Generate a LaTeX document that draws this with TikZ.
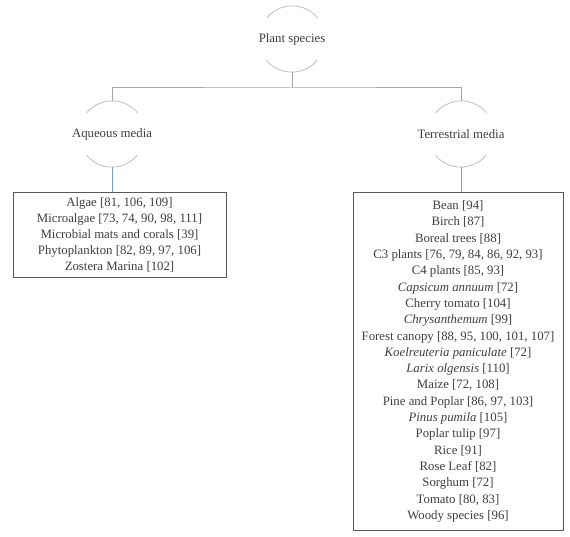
\documentclass[tikz,border=0pt]{standalone}
\usepackage{fontspec}
\setmainfont{Liberation Serif}
\begin{document}
\begin{tikzpicture}[x=1pt,y=-1pt,
  txt/.style={text=textgray,font=\fontsize{12.8}{15.5}\selectfont},
  ring/.style={circle,minimum size=66pt,inner sep=0pt},
  arcline/.style={draw=arcgray,line width=0.8pt},
  conn/.style={draw=conngray,line width=0.9pt},
  bconn/.style={draw=blueline,line width=0.9pt},
  listbox/.style={draw=boxgray,line width=0.9pt,align=center,inner sep=2pt,anchor=north,text=textgray}
]
\definecolor{textgray}{HTML}{3F3F3F}
\definecolor{arcgray}{HTML}{BFBFBF}
\definecolor{conngray}{HTML}{A6A6A6}
\definecolor{blueline}{HTML}{6FA0DC}
\definecolor{boxgray}{HTML}{595959}
\useasboundingbox (0,0) rectangle (570,537);
\fill[white] (0,0) rectangle (570,537);

\node[ring,label={[txt]center:Plant species}] (root) at (292,39) {};
\node[ring,label={[txt]center:Aqueous media}] (aq) at (112,134) {};
\node[ring,label={[txt]center:Terrestrial media}] (te) at (461,134) {};

\foreach \n in {root,aq,te}{
  \draw[arcline] (\n.40) arc[start angle=-40,end angle=-140,radius=33];
  \draw[arcline] (\n.220) arc[start angle=-220,end angle=-320,radius=33];
}

\coordinate (j) at (292,87);
\draw[conn] (root.south) -- (j);
\draw[conn] (aq.north) |- (j) -| (te.north);

\node[listbox,font=\fontsize{12.8}{16}\selectfont,minimum width=213pt,minimum height=85pt] (aqbox) at (119.5,192) {%
Algae [81, 106, 109]\\
Microalgae [73, 74, 90, 98, 111]\\
Microbial mats and corals [39]\\
Phytoplankton [82, 89, 97, 106]\\
Zostera Marina [102]};

\node[listbox,font=\fontsize{12.8}{16.3}\selectfont,minimum width=210pt,minimum height=338pt] (tebox) at (458,192) {%
Bean [94]\\
Birch [87]\\
Boreal trees [88]\\
C3 plants [76, 79, 84, 86, 92, 93]\\
C4 plants [85, 93]\\
\textit{Capsicum annuum} [72]\\
Cherry tomato [104]\\
\textit{Chrysanthemum} [99]\\
Forest canopy [88, 95, 100, 101, 107]\\
\textit{Koelreuteria paniculate} [72]\\
\textit{Larix olgensis} [110]\\
Maize [72, 108]\\
Pine and Poplar [86, 97, 103]\\
\textit{Pinus pumila} [105]\\
Poplar tulip [97]\\
Rice [91]\\
Rose Leaf [82]\\
Sorghum [72]\\
Tomato [80, 83]\\
Woody species [96]};

\draw[bconn] (aq.south) -- (aq.south |- aqbox.north);
\draw[bconn] (te.south) -- (te.south |- tebox.north);
\end{tikzpicture}
\end{document}
